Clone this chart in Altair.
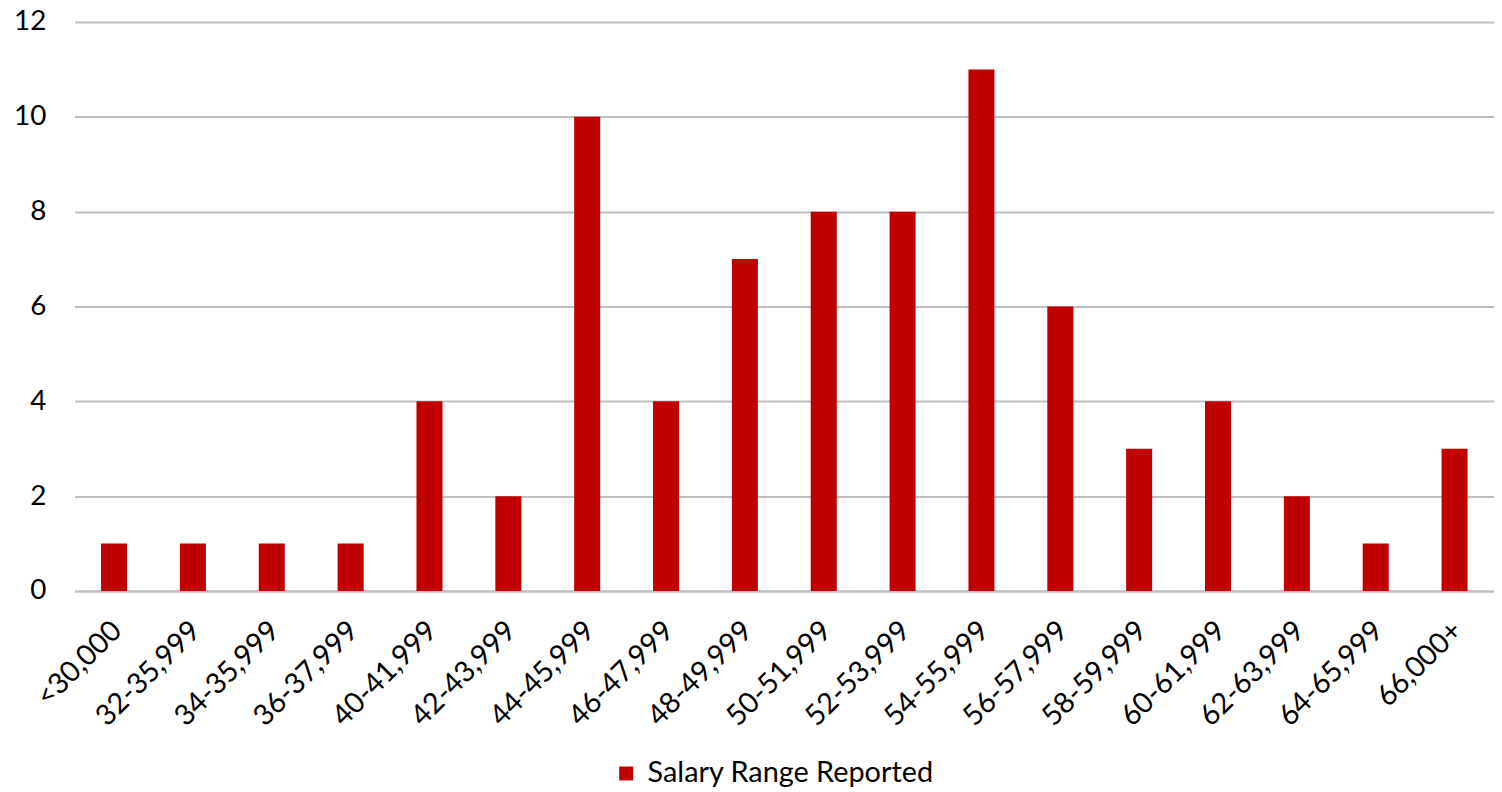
import altair as alt
import pandas as pd

categories = ["<30,000", "32-35,999", "34-35,999", "36-37,999", "40-41,999", "42-43,999",
              "44-45,999", "46-47,999", "48-49,999", "50-51,999", "52-53,999", "54-55,999",
              "56-57,999", "58-59,999", "60-61,999", "62-63,999", "64-65,999", "66,000+"]
counts = [1, 1, 1, 1, 4, 2, 10, 4, 7, 8, 8, 11, 6, 3, 4, 2, 1, 3]
series_name = "Salary Range Reported"
y_ticks = [0, 2, 4, 6, 8, 10, 12]

df = pd.DataFrame({"range": categories, "count": counts, "series": series_name})

font = "Lato"

chart = alt.Chart(df).mark_bar(color="#C00000").encode(
    x=alt.X("range:N", sort=categories, title=None,
            scale=alt.Scale(paddingInner=0.67, paddingOuter=0.335),
            axis=alt.Axis(labelAngle=-45, labelAlign="right", labelBaseline="top",
                          labelFontSize=29, labelFont=font, labelColor="#000000",
                          labelPadding=25, labelOffset=-7, ticks=False, domain=True,
                          domainColor="#BFBFBF", domainWidth=2, grid=False,
                          labelOverlap=False)),
    y=alt.Y("count:Q", title=None,
            scale=alt.Scale(domain=[0, 12], nice=False),
            axis=alt.Axis(values=y_ticks, labelFontSize=28, labelFont=font, labelColor="#000000",
                          labelPadding=29, ticks=False, domain=False, grid=True,
                          gridColor="#BFBFBF", gridWidth=2)),
    color=alt.Color("series:N", scale=alt.Scale(domain=[series_name], range=["#C00000"]),
                    legend=alt.Legend(title=None, orient="none", legendX=540, legendY=741,
                                      symbolType="square", symbolSize=196, symbolStrokeWidth=0,
                                      labelFontSize=29, labelFont=font, labelColor="#000000",
                                      labelOffset=7, labelLimit=0)),
).properties(
    width=1427, height=572,
    autosize=alt.AutoSizeParams(type="none"),
    padding={"left": 67, "top": 12, "right": 0, "bottom": 196},
).configure_view(stroke=None)

chart.save("out.html", embed_options={"renderer": "svg", "actions": False})
